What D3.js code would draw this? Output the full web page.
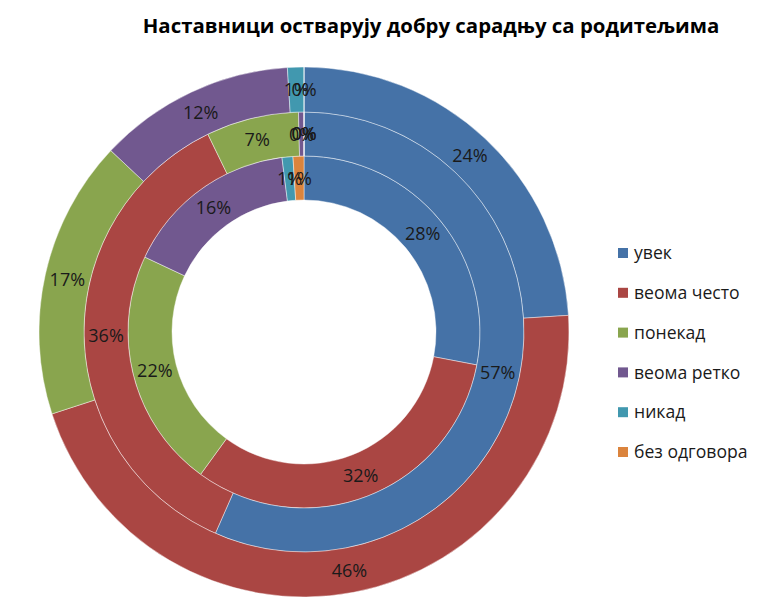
<!DOCTYPE html>
<html>
<head>
<meta charset="utf-8">
<script src="https://cdn.jsdelivr.net/npm/d3@7"></script>
<style>
  html, body { margin: 0; padding: 0; background: #fff; }
  svg { display: block; }
</style>
</head>
<body>
<svg id="chart" width="781" height="615"></svg>
<script>
// ---- data ----
const titleText = "Наставници остварују добру сарадњу са родитељима";
const categories = ["увек", "веома често", "понекад", "веома ретко", "никад", "без одговора"];
const colors = ["#4572A7", "#AA4643", "#89A54E", "#71588F", "#4198AF", "#DB843D"];
// rings from inside to outside (percent)
const innerValues  = [28, 32, 22, 16, 1, 1];
const middleValues = [56.6, 36.2, 6.8, 0.4, 0, 0];
const outerValues  = [24, 46, 17, 12, 1, 0];
const rings = [innerValues, middleValues, outerValues];

// ---- layout ----
const svg = d3.select("#chart");
const cx = 304, cy = 332;
const radii = [132, 176, 220, 265];

const color = d3.scaleOrdinal().domain(categories).range(colors);
const pie = d3.pie().sort(null).value(d => d.value);
const fmt = d3.format(".0%");

const g = svg.append("g").attr("transform", `translate(${cx},${cy})`);

rings.forEach((vals, i) => {
  const data = categories.map((c, j) => ({ cat: c, value: vals[j] }));
  const total = d3.sum(vals);
  const arcs = pie(data);
  const arc = d3.arc().innerRadius(radii[i]).outerRadius(radii[i + 1]);
  const rg = g.append("g");
  rg.selectAll("path").data(arcs).join("path")
    .attr("d", arc)
    .attr("fill", d => color(d.data.cat))
    .attr("stroke", "rgba(255,255,255,0.55)")
    .attr("stroke-width", 0.8);
  rg.selectAll("text").data(arcs).join("text")
    .attr("transform", d => `translate(${arc.centroid(d)})`)
    .attr("text-anchor", "middle")
    .attr("dy", "0.36em")
    .attr("font-family", "'Open Sans', sans-serif")
    .attr("font-size", 18)
    .attr("fill", "#1a1a1a")
    .text(d => fmt(d.data.value / total));
});

// ---- title ----
const title = svg.append("text")
  .attr("x", 431).attr("y", 33)
  .attr("text-anchor", "middle")
  .attr("font-family", "'Open Sans', sans-serif")
  .attr("font-weight", "bold")
  .attr("font-size", 22)
  .attr("fill", "#000")
  .text(titleText);
const tw = title.node().getComputedTextLength();
title.attr("font-size", 22 * 577 / tw);

// ---- legend ----
const legend = svg.append("g").attr("transform", "translate(618,253)");
const items = legend.selectAll("g").data(categories).join("g")
  .attr("transform", (d, i) => `translate(0,${i * 39.8})`);
items.append("rect")
  .attr("x", 0).attr("y", -5).attr("width", 10).attr("height", 10)
  .attr("fill", d => color(d));
items.append("text")
  .attr("x", 16).attr("y", 0).attr("dy", "0.35em")
  .attr("font-family", "'Open Sans', sans-serif")
  .attr("font-size", 17.6)
  .attr("fill", "#1a1a1a")
  .text(d => d);
</script>
</body>
</html>
